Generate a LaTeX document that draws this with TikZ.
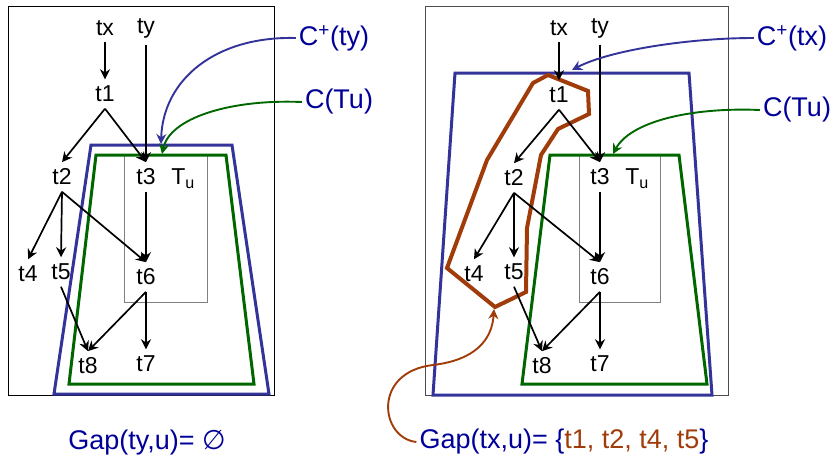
\documentclass[tikz,border=0pt]{standalone}
\usepackage{fontspec}
\setmainfont{Liberation Sans}
\newfontfamily\symbolfont{DejaVu Sans}
\usetikzlibrary{arrows.meta}
\definecolor{gapblue}{RGB}{0,0,153}
\definecolor{setblue}{RGB}{51,51,153}
\definecolor{setgreen}{RGB}{0,102,0}
\definecolor{gapbrown}{RGB}{160,60,10}

\begin{document}
\begin{tikzpicture}[x=1pt,y=-1pt,>={Stealth[length=10pt,width=10pt]},
  tnode/.style={font=\fontsize{23}{27}\selectfont,inner sep=6.5pt},
  lbl/.style={font=\fontsize{27}{31}\selectfont,text=gapblue,inner sep=3pt},
  edge/.style={->,line width=1.7pt},
  pointer/.style={->,line width=1.9pt}]
  \useasboundingbox (0,0) rectangle (833,461);

  % left: Gap(ty,u)
  \draw[line width=1pt] (8,6) rectangle (274,395);
  \draw[gray,line width=1pt] (124,155) rectangle (207,302);
  \draw[setblue,line width=3pt] (91,145) -- (232,145) -- (269,394) -- (54,394) -- cycle;
  \draw[setgreen,line width=3pt] (96,155) -- (226,155) -- (254,384) -- (69,384) -- cycle;
  \node[tnode] (ltx) at (105,28) {tx};
  \node[tnode] (lty) at (146,28) {ty};
  \node[tnode] (lt1) at (105,94) {t1};
  \node[tnode] (lt2) at (62,177) {t2};
  \node[tnode] (lt3) at (146,177) {t3};
  \node[tnode] (ltu) at (183,179) {T\textsubscript{u}};
  \node[tnode] (lt4) at (28,274) {t4};
  \node[tnode] (lt5) at (61,272) {t5};
  \node[tnode] (lt6) at (146,277) {t6};
  \node[tnode] (lt8) at (88,366) {t8};
  \node[tnode] (lt7) at (146,364) {t7};
  \draw[edge] (ltx) -- (lt1);
  \draw[edge] (lty) -- (lt3);
  \draw[edge] (lt1.south) -- (lt2.north);
  \draw[edge] (lt1.south) -- (lt3.north);
  \draw[edge] (lt2.south) -- (lt4.north);
  \draw[edge] (lt2.south) -- (lt5.north);
  \draw[edge] (lt2.south) -- (lt6.north);
  \draw[edge] (lt3) -- (lt6);
  \draw[edge] (lt5.south) -- (lt8.north);
  \draw[edge] (lt6.south) -- (lt8.north);
  \draw[edge] (lt6.south) -- (lt7.north);
  \node[lbl] (lcplus) at (334,38) {C\textsuperscript{+}(ty)};
  \node[lbl] (lctu) at (339,102) {C(Tu)};
  \coordinate (lcplustip) at (161,144);
  \coordinate (lctutip) at (162,154);
  \draw[pointer,setblue] (lcplus.west) .. controls (215,36) and (163,80) .. (lcplustip);
  \draw[pointer,setgreen] (lctu.west) .. controls (230,99) and (170,118) .. (lctutip);
  \node[lbl] (lgap) at (147,443) {Gap(ty,u)= {\symbolfont ∅}};

  % right: Gap(tx,u)
  \draw[gray!60!black,line width=1pt] (425,6) rectangle (728,395);
  \draw[gray,line width=1pt] (579,155) rectangle (660,302);
  \draw[setblue,line width=3pt] (455,73) -- (689,73) -- (712,395) -- (433,395) -- cycle;
  \draw[setgreen,line width=3pt] (550,155) -- (679,155) -- (707,384) -- (522,384) -- cycle;
  \draw[gapbrown,line width=4pt,line join=miter] (548,75) -- (588,91) -- (589,114) -- (558,129) -- (541,155)
    -- (527,228) -- (526,292) -- (495,307) -- (447,268) -- (487,160) -- (533,83) -- cycle;
  \node[tnode] (rtx) at (559,28) {tx};
  \node[tnode] (rty) at (600,28) {ty};
  \node[tnode] (rt1) at (559,95) {t1};
  \node[tnode] (rt2) at (514,178) {t2};
  \node[tnode] (rt3) at (600,177) {t3};
  \node[tnode] (rtu) at (637,179) {T\textsubscript{u}};
  \node[tnode] (rt4) at (474,274) {t4};
  \node[tnode] (rt5) at (514,272) {t5};
  \node[tnode] (rt6) at (600,277) {t6};
  \node[tnode] (rt8) at (542,366) {t8};
  \node[tnode] (rt7) at (600,364) {t7};
  \draw[edge] (rtx) -- (rt1);
  \draw[edge] (rty) -- (rt3);
  \draw[edge] (rt1.south) -- (rt2.north);
  \draw[edge] (rt1.south) -- (rt3.north);
  \draw[edge] (rt2.south) -- (rt4.north);
  \draw[edge] (rt2.south) -- (rt5.north);
  \draw[edge] (rt2.south) -- (rt6.north);
  \draw[edge] (rt3) -- (rt6);
  \draw[edge] (rt5.south) -- (rt8.north);
  \draw[edge] (rt6.south) -- (rt8.north);
  \draw[edge] (rt6.south) -- (rt7.north);
  \node[lbl] (rcplus) at (792,38) {C\textsuperscript{+}(tx)};
  \node[lbl] (rctu) at (797,110) {C(Tu)};
  \coordinate (rcplustip) at (572,70);
  \coordinate (rctutip) at (613,154);
  \draw[pointer,setblue] (rcplus.west) .. controls (690,38) and (610,50) .. (rcplustip);
  \draw[pointer,setgreen] (rctu.west) .. controls (690,107) and (630,122) .. (rctutip);
  \node[lbl] (rgap) at (564,442) {Gap(tx,u)= \{{\color{gapbrown}t1, t2, t4, t5}\}};
  \coordinate (rgaptip) at (494,309);
  \draw[pointer,gapbrown] (rgap.west) .. controls (380,438) and (372,372) .. (433,365)
    .. controls (475,360) and (492,340) .. (rgaptip);
\end{tikzpicture}
\end{document}
